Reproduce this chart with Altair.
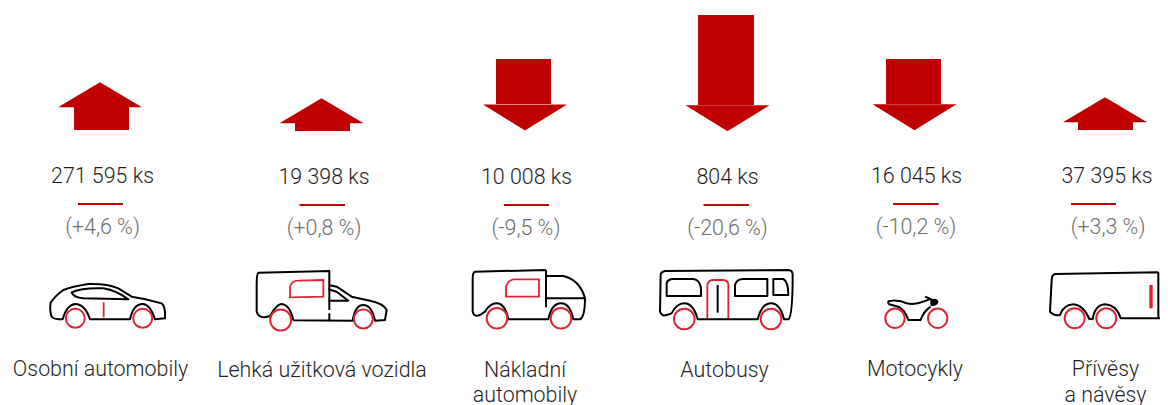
import altair as alt
import pandas as pd

# Values
categories = ["Osobní automobily", "Lehká užitková vozidla", "Nákladní automobily", "Autobusy", "Motocykly", "Přívěsy a návěsy"]
pieces = ["271 595 ks", "19 398 ks", "10 008 ks", "804 ks", "16 045 ks", "37 395 ks"]
changes = ["(+4,6 %)", "(+0,8 %)", "(-9,5 %)", "(-20,6 %)", "(-10,2 %)", "(+3,3 %)"]

# Layout, expressed in the picture's pixel space (scales below map them)
piece_x = [102.5, 324, 526.5, 727.5, 916.5, 1107]
piece_y = [177, 178, 178, 178, 177, 177]
change_x = [102.5, 324, 526, 727.5, 916, 1108]
change_y = [228, 229, 229, 229, 228, 228]
rule_x1 = [78, 299.5, 504, 703.5, 893, 1071]
rule_x2 = [123, 345, 549, 749, 938.5, 1116]
rule_y = [204, 205, 205, 205, 204, 204]

shaft_x1 = [74, 295, 496, 698, 886, 1078]
shaft_x2 = [129, 350, 551, 754, 941, 1133]
shaft_top = [107, 123, 59, 15, 59, 122]
shaft_bottom = [130, 131, 104, 105, 104, 130]
head_x = [100, 321.5, 525, 727.5, 914.5, 1105]
head_y = [107.3, 123.3, 104.5, 105.3, 104.3, 122.3]
head_dir = ["up", "up", "down", "down", "down", "up"]
HEAD = {"up": "M-42,0L0,-25L42,0Z", "down": "M-42,0L0,26L42,0Z"}

label_lines = [
    ("Osobní automobily", 100.5, 369.5), ("Lehká užitková vozidla", 322, 371),
    ("Nákladní", 525, 371), ("automobily", 525, 396), ("Autobusy", 724.5, 371),
    ("Motocykly", 915, 369.5), ("Přívěsy", 1105.5, 370), ("a návěsy", 1105.5, 396),
]

wheel_x = [75.3, 142.7, 280.7, 363.3, 497, 561, 684.3, 771, 895, 937.7, 1074.7, 1106.3]
wheel_y = [318.3, 318.3, 320, 319, 318.3, 318.3, 319, 319, 318.3, 318.3, 318.3, 318.3]
wheel_d = [19, 19, 21, 19, 20.6, 20.6, 20.6, 20.6, 19.4, 19.4, 20, 20]

# Icon outlines are glyph shapes, drawn at 1/3 scale from three anchors
BLACK = [
    (0, 260, "M188,178Q160,178 155,170Q148,150 152,128Q165,108 190,90Q215,80 265,72Q320,70 355,85L395,110Q440,116 485,130Q497,140 495,175L465,178Q450,132 428,132Q400,132 390,178L270,178Q255,132 225,132Q200,135 188,178Z"),
    (0, 260, "M215,97Q245,83 310,85Q350,92 385,118L250,115Q220,112 215,97Z"),
    (0, 260, "M880,181L1060,182M990,33L775,38Q770,42 770,75L770,155Q775,172 795,172L810,168Q830,132 845,132Q870,135 880,181M988,33L988,150M988,160L988,182"),
    (0, 260, "M985,75L1010,80L1055,110L1110,122Q1150,130 1160,150L1155,180L1125,182Q1115,135 1090,135Q1065,135 1058,182"),
    (0, 260, "M985,88L1010,95L1045,122L985,122"),
    (400, 260, "M438,30L225,35Q218,38 218,55L218,155Q222,172 240,165L255,155Q270,130 290,130Q315,130 325,178L445,178Q455,130 483,130Q510,130 520,178L540,178Q555,170 555,115Q540,60 490,48L440,48M438,30L438,142M438,115L555,115"),
    (400, 260, "M1165,30L795,33Q782,36 782,45L780,155Q785,170 800,165L815,160Q830,130 853,130Q880,130 893,178L1073,178Q1085,130 1113,130Q1140,130 1152,178L1165,178Q1178,170 1178,45Q1178,30 1165,30Z"),
    (400, 260, "M800,108L800,70Q803,57 820,57L880,57Q900,60 903,85L903,108Z"),
    (400, 260, "M1005,108L1005,75Q1010,57 1030,57L1102,57L1102,108Z"),
    (400, 260, "M1120,105L1120,57L1150,57Q1165,65 1165,105Z"),
    (400, 260, "M953,75L953,158"),
    (800, 260, "M265,130Q262,122 275,122Q300,120 320,130Q345,135 370,125L388,118M375,110L395,118M265,132L295,140Q315,150 325,180L362,180Q370,155 392,140"),
    (800, 260, "M1075,37L765,42Q755,45 755,60L750,155Q760,168 780,165Q790,135 820,133Q850,135 868,177L878,177Q885,135 915,133Q950,135 962,175L1095,175M1075,37L1075,175"),
]
BLOB = [(800, 260, "M390,118Q415,112 415,127Q410,140 392,138Z")]
RED = [
    (0, 260, "M311,127L311,172"),
    (0, 260, "M870,112L870,80Q875,62 895,62L970,60L970,110Z"),
    (400, 260, "M318,110L318,80Q325,60 340,58L417,58L417,110Z"),
    (400, 260, "M922,175L922,75Q925,60 940,60L970,60Q985,62 985,75L985,175"),
]
RED_BAR = [(800, 260, "M1053,75L1053,145")]

X = alt.X("x:Q", axis=None, scale=alt.Scale(domain=[8, 1160], nice=False, zero=False))
Y = alt.Y("y:Q", axis=None, scale=alt.Scale(domain=[405, 8], nice=False, zero=False))
PATH = alt.Shape("path:N", scale=None)


def glyphs(rows):
    return pd.DataFrame(rows, columns=["x", "y", "path"])


shafts = pd.DataFrame({"x": shaft_x1, "x2": shaft_x2, "y": shaft_top, "y2": shaft_bottom})
heads = pd.DataFrame({"x": head_x, "y": head_y, "path": [HEAD[d] for d in head_dir]})
rules = pd.DataFrame({"x": rule_x1, "x2": rule_x2, "y": rule_y})
wheels = pd.DataFrame({"x": wheel_x, "y": wheel_y, "size": [d * d for d in wheel_d]})

layers = [
    alt.Chart(shafts).mark_rect(color="#C00000").encode(x=X, x2="x2:Q", y=Y, y2="y2:Q"),
    alt.Chart(heads).mark_point(filled=True, size=4, color="#C00000", opacity=1, strokeWidth=0).encode(x=X, y=Y, shape=PATH),
    alt.Chart(rules).mark_rule(color="#C00000", strokeWidth=2).encode(x=X, x2="x2:Q", y=Y),
    alt.Chart(glyphs(BLACK)).mark_point(filled=False, size=4 / 9, color="#000000", opacity=1, strokeWidth=2, strokeJoin="round").encode(x=X, y=Y, shape=PATH),
    alt.Chart(glyphs(BLOB)).mark_point(filled=True, size=4 / 9, color="#000000", opacity=1).encode(x=X, y=Y, shape=PATH),
    alt.Chart(glyphs(RED)).mark_point(filled=False, size=4 / 9, color="#DC2433", opacity=1, strokeWidth=1.8).encode(x=X, y=Y, shape=PATH),
    alt.Chart(glyphs(RED_BAR)).mark_point(filled=False, size=4 / 9, color="#DC2433", opacity=1, strokeWidth=3.4).encode(x=X, y=Y, shape=PATH),
    alt.Chart(wheels).mark_point(filled=False, shape="circle", color="#DC2433", opacity=1, strokeWidth=2).encode(x=X, y=Y, size=alt.Size("size:Q", scale=None)),
]

FONT = dict(font="Roboto", fontSize=21.4, fontWeight=300, baseline="middle", align="center")
layers += [
    alt.Chart(pd.DataFrame({"x": piece_x, "y": piece_y, "t": pieces})).mark_text(color="#1F1F1F", **FONT).encode(x=X, y=Y, text="t:N"),
    alt.Chart(pd.DataFrame({"x": change_x, "y": change_y, "t": changes})).mark_text(color="#6F6F6F", **FONT).encode(x=X, y=Y, text="t:N"),
    alt.Chart(pd.DataFrame(label_lines, columns=["t", "x", "y"])).mark_text(color="#1F1F1F", **FONT).encode(x=X, y=Y, text="t:N"),
]

chart = alt.layer(*layers).properties(
    width=1152, height=397, padding=0, background="white",
    autosize=alt.AutoSizeParams(type="none", contains="padding"),
).configure_view(strokeWidth=0)
chart.save("out.html", embed_options={"renderer": "svg", "actions": False})
